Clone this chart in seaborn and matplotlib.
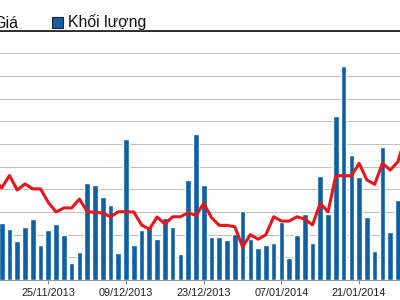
import numpy as np
import pandas as pd
import matplotlib
matplotlib.use("Agg")
import matplotlib.pyplot as plt
from matplotlib.patches import Rectangle
import seaborn as sns

# Trading days 14/11/2013 .. 29/01/2014 (01/01/2014 holiday)
dates = [d for d in pd.bdate_range("2013-11-14", "2014-01-29") if d != pd.Timestamp("2014-01-01")]
date_labels = [d.strftime("%d/%m/%Y") for d in dates]

# Volume (thousand shares)
volume = [48, 50, 45, 34, 47, 54, 31, 44, 49, 40, 15, 25, 86, 84, 73, 66, 24,
          124, 31, 44, 48, 36, 55, 47, 23, 88, 129, 84, 38, 38, 35, 41, 61,
          36, 28, 31, 33, 51, 19, 40, 58, 33, 92, 58, 145, 189, 110, 91, 56,
          26, 117, 42, 71, 60]

# Price (thousand VND)
price = [12.45, 12.06, 12.61, 11.97, 12.24, 12.02, 12.02, 11.42, 11.00, 11.18,
         11.18, 11.57, 11.02, 10.98, 10.96, 10.79, 11.01, 11.01, 11.00, 10.43,
         10.24, 10.78, 10.47, 10.79, 10.79, 10.97, 10.85, 11.38, 10.75, 10.41,
         10.41, 10.35, 9.46, 10.00, 9.80, 10.00, 10.79, 10.60, 10.60, 10.79,
         10.69, 10.43, 11.38, 11.01, 12.60, 12.60, 12.60, 13.15, 12.41, 12.22,
         13.15, 12.85, 13.22, 14.40]

tick_labels = ["25/11/2013", "09/12/2013", "23/12/2013", "07/01/2014", "21/01/2014"]

legend_labels = ["Giá", "Khối lượng"]

BAR = "#0e5fa4"
RED = "#e8161b"
GRID = "#c2c2c2"

df = pd.DataFrame({"date": date_labels, "volume": volume, "price": price})
df["pos"] = np.arange(len(df))

sns.set_theme(style="white")
plt.rcParams["font.family"] = ["Liberation Sans", "DejaVu Sans"]

fig = plt.figure(figsize=(4, 3), dpi=100)
ax = fig.add_axes([0.0, 20 / 300, 1.0, (280 - 30.7) / 300])

sns.barplot(data=df, x="date", y="volume", color=BAR, saturation=1,
            width=0.73, ax=ax, order=date_labels)

ax.set_ylim(0, 220)
ax.set_yticks(np.arange(0, 221, 20))
ax.yaxis.grid(True, color=GRID, linewidth=0.8)
ax.set_axisbelow(True)
ax.tick_params(axis="y", left=False, labelleft=False)

tick_pos = [date_labels.index(t) for t in tick_labels]
ax.set_xticks(tick_pos)
ax.set_xticklabels(tick_labels, fontsize=7.8, color="#222222")
ax.tick_params(axis="x", bottom=True, length=3, width=0.8, color="#888888", pad=2.5)
ax.set_xlabel("")
ax.set_ylabel("")

x0 = 1 - 1.7 / 7.77
x1 = 1 + (400 - 1.7) / 7.77
ax.set_xlim(x0, x1)

for s in ["left", "right"]:
    ax.spines[s].set_visible(False)
ax.spines["top"].set_color("black")
ax.spines["top"].set_linewidth(1.1)
ax.spines["bottom"].set_color("#999999")
ax.spines["bottom"].set_linewidth(0.8)

ax2 = ax.twinx()
sns.lineplot(data=df, x="pos", y="price", color=RED, linewidth=2.2, ax=ax2)
ax2.set_ylim(8.0, 19.0)
ax2.set_xlim(x0, x1)
ax2.axis("off")

# Legend (partly cut off on the left, as in the reference)
fig.text(18.5 / 400, 1 - 27.5 / 300, legend_labels[0], ha="right", va="baseline",
         fontsize=11.5, color="#111111")
fig.patches.append(Rectangle((52 / 400, 1 - 28 / 300), 11 / 400, 11 / 300,
                             transform=fig.transFigure, facecolor=BAR,
                             edgecolor="#222222", linewidth=0.8))
fig.text(67.5 / 400, 1 - 27.5 / 300, legend_labels[1], ha="left", va="baseline",
         fontsize=11.4, color="#111111")

fig.savefig("out.png", dpi=100)
